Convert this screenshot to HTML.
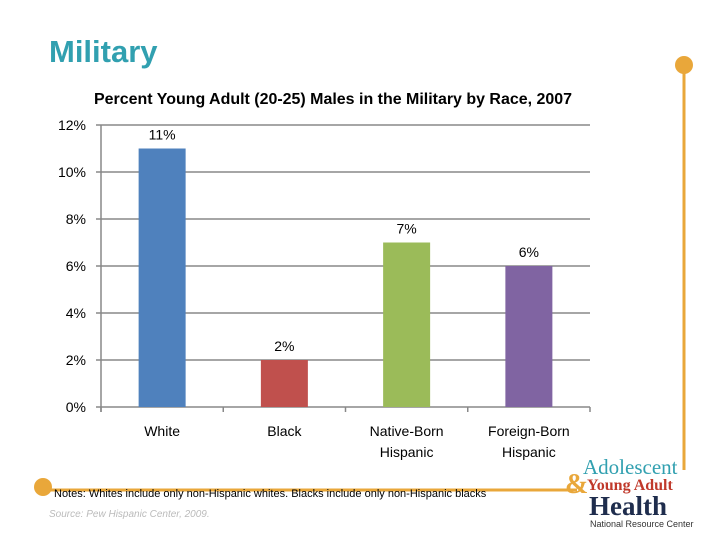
<!DOCTYPE html>
<html><head><meta charset="utf-8"><style>
body{margin:0;background:#fff;}
#wrap{position:relative;width:720px;height:540px;overflow:hidden;font-family:"Liberation Sans",sans-serif;}
.t{position:absolute;white-space:nowrap;}
</style></head><body>
<div id="wrap">
<div class="t" style="left:49px;top:34px;font-size:31px;font-weight:bold;color:#31a0b0;">Military</div>
<svg id="chart" width="720" height="540" style="position:absolute;left:0;top:0"></svg>
<div class="t" style="left:54px;top:488px;font-size:11px;color:#000;">Notes: Whites include only non-Hispanic whites. Blacks include only non-Hispanic blacks</div>
<div class="t" style="left:49px;top:509px;font-size:10px;font-style:italic;color:#bbb;">Source: Pew Hispanic Center, 2009.</div>
<div style="position:absolute;left:565px;top:455px;width:145px;height:75px;">
<div class="t" style="left:18px;top:0;font-size:21px;color:#31a0b0;font-family:'Liberation Serif',serif;">Adolescent</div>
<div class="t" style="left:0;top:14px;font-size:28px;color:#e9a73a;font-family:'Liberation Serif',serif;font-weight:bold;">&amp;</div>
<div class="t" style="left:22px;top:22px;font-size:16px;color:#c0392b;font-weight:bold;font-family:'Liberation Serif',serif;">Young Adult</div>
<div class="t" style="left:24px;top:36px;font-size:27px;color:#1f2d4d;font-weight:bold;font-family:'Liberation Serif',serif;">Health</div>
<div class="t" style="left:25px;top:64px;font-size:9px;color:#333;">National Resource Center</div>
</div>
</div>
<script>
const categories=["White","Black","Native-Born|Hispanic","Foreign-Born|Hispanic"];
const values=[11,2,7,6];
const valueLabels=["11%","2%","7%","6%"];
const colors=["#4f81bd","#c0504d","#9bbb59","#8064a2"];
const ticks=[0,2,4,6,8,10,12];
const tickLabels=["0%","2%","4%","6%","8%","10%","12%"];
const NS="http://www.w3.org/2000/svg";
const svg=document.getElementById('chart');
const x0=101,x1=590,y0=407,y1=125;
const y=v=>y0-(v/12)*(y0-y1);
const cw=(x1-x0)/categories.length;
const xc=i=>x0+cw*(i+0.5);
function mk(t,a){const e=document.createElementNS(NS,t);for(const k in a)e.setAttribute(k,a[k]);svg.appendChild(e);return e;}
let e=mk('line',{x1:684,y1:66,x2:684,y2:470,stroke:'#e9a73a','stroke-width':3});

e=mk('circle',{cx:684,cy:65,r:9,fill:'#e9a73a'});

e=mk('line',{x1:40,y1:490,x2:577,y2:490,stroke:'#e9a73a','stroke-width':3});

e=mk('circle',{cx:43,cy:487,r:9,fill:'#e9a73a'});

e=mk('text',{x:333,y:104,'text-anchor':'middle','font-size':16,'font-weight':'bold','font-family':'Liberation Sans, sans-serif','textLength':478,'lengthAdjust':'spacingAndGlyphs'});
e.textContent='Percent Young Adult (20-25) Males in the Military by Race, 2007';

ticks.forEach((t,i)=>{
 const g=mk('line',{x1:x0-5,y1:y(t),x2:x1,y2:y(t),stroke:'#888','stroke-width':1.5});
 
 const l=mk('text',{x:86,y:y(t)+5,'text-anchor':'end','font-size':14,'font-family':'Liberation Sans, sans-serif'});
 l.textContent=tickLabels[i];
 
});
e=mk('line',{x1:x0,y1:y1,x2:x0,y2:y0+5,stroke:'#888','stroke-width':1.5});

for(let i=0;i<=categories.length;i++){
 const tk=mk('line',{x1:x0+cw*i,y1:y0,x2:x0+cw*i,y2:y0+5,stroke:'#888','stroke-width':1.5});
 
}
const bw=47;
values.forEach((v,i)=>{
 const r=mk('rect',{x:xc(i)-bw/2,y:y(v),width:bw,height:y0-y(v),fill:colors[i]});
 
 const l=mk('text',{x:xc(i),y:y(v)-9,'text-anchor':'middle','font-size':14,'font-family':'Liberation Sans, sans-serif'});
 l.textContent=valueLabels[i];
 
 categories[i].split('|').forEach((s,j)=>{
  const c=mk('text',{x:xc(i),y:436+j*21,'text-anchor':'middle','font-size':14,'font-family':'Liberation Sans, sans-serif'});
  c.textContent=s;
  
 });
});
</script>
</body></html>
